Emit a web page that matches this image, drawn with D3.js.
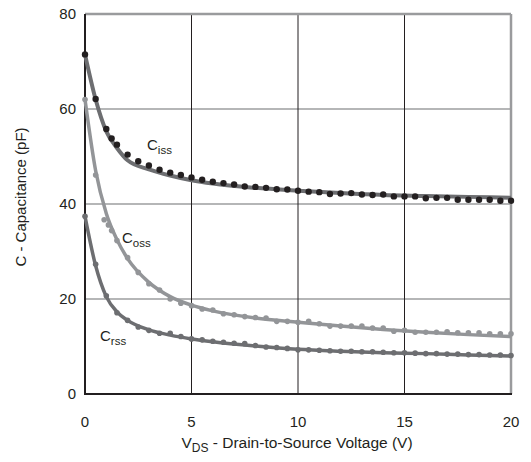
<!DOCTYPE html>
<html>
<head>
<meta charset="utf-8">
<script src="https://cdn.jsdelivr.net/npm/d3@7"></script>
<style>
    body { margin: 0; background: #fff; }
    text { font-family: "Liberation Sans", Arial, sans-serif; fill: #231f20; }
</style>
</head>
<body>
<div id="chart"></div>
<script>
// data (V, pF)
var xTicks = [0, 5, 10, 15, 20];
var yTicks = [0, 20, 40, 60, 80];

var cissDotV = [0, 0.5, 1, 1.25, 1.5, 2, 2.5, 3, 3.5, 4, 4.5, 5, 5.5, 6, 6.5, 7, 7.5, 8, 8.5, 9, 9.5, 10, 10.5, 11, 11.5, 12, 12.5, 13, 13.5, 14, 14.5, 15, 15.5, 16, 16.5, 17, 17.5, 18, 18.5, 19, 19.5, 20];
var cissDotC = [71.5, 62.1, 55.8, 53.8, 52.5, 50.4, 49.0, 48.1, 47.2, 46.6, 46.1, 45.6, 45.1, 44.7, 44.4, 44.1, 43.7, 43.6, 43.4, 43.1, 43.05, 42.8, 42.6, 42.5, 42.1, 42.2, 42.3, 42.0, 41.9, 42.0, 41.6, 41.6, 41.6, 41.2, 41.3, 41.3, 40.9, 40.9, 40.9, 40.9, 40.7, 40.7];

var cossDotV = [0, 0.5, 0.9, 1.1, 1.25, 1.5, 2, 2.5, 3, 3.5, 4, 4.5, 5, 5.5, 6, 6.5, 7, 7.5, 8, 8.5, 9, 9.5, 10, 10.5, 11, 11.5, 12, 12.5, 13, 13.5, 14, 14.5, 15, 15.5, 16, 16.5, 17, 17.5, 18, 18.5, 19, 19.5, 20];
var cossDotC = [62, 46.1, 36.7, 35.6, 34.4, 32.3, 28.7, 25.6, 23.2, 21.9, 20.0, 19.1, 18.6, 17.9, 17.7, 16.9, 16.7, 16.3, 16.1, 16.0, 15.3, 15.3, 15.1, 15.3, 14.8, 14.3, 14.3, 14.3, 14.3, 13.9, 13.9, 13.2, 13.4, 13.0, 13.0, 13.0, 13.1, 12.9, 12.9, 12.9, 12.7, 12.7, 12.7];

var crssDotV = [0, 0.5, 1, 1.5, 2, 2.5, 3, 3.5, 4, 4.5, 5, 5.5, 6, 6.5, 7, 7.5, 8, 8.5, 9, 9.5, 10, 10.5, 11, 11.5, 12, 12.5, 13, 13.5, 14, 14.5, 15, 15.5, 16, 16.5, 17, 17.5, 18, 18.5, 19, 19.5, 20];
var crssDotC = [37.4, 27.3, 20.7, 17.1, 15.5, 14.1, 13.4, 12.8, 12.8, 12.1, 11.6, 11.4, 11.1, 10.9, 10.7, 10.6, 10.2, 9.9, 9.8, 9.6, 9.3, 9.3, 9.2, 9.1, 9.0, 9.0, 8.9, 8.9, 8.8, 8.7, 8.7, 8.6, 8.5, 8.5, 8.4, 8.4, 8.3, 8.3, 8.2, 8.2, 8.1];

var fitV = [0, 0.5, 1, 1.5, 2, 3, 4, 5, 6, 8, 10, 12, 14, 16, 18, 20];
var cissFit = [71.5, 62, 55.3, 51.8, 49.2, 47.3, 46.0, 45.0, 44.3, 43.4, 42.8, 42.3, 41.9, 41.7, 41.5, 41.3];
var cossFit = [62, 47, 38, 32.5, 28.5, 23.5, 20.5, 18.7, 17.5, 16.0, 15.1, 14.3, 13.6, 13.0, 12.5, 12.1];
var crssFit = [37.4, 27, 20.5, 17.3, 15.5, 13.5, 12.4, 11.6, 11.0, 10.1, 9.4, 9.0, 8.7, 8.5, 8.2, 8.0];

var W = 531, H = 462;
var margin = { left: 85, right: 20, top: 14, bottom: 68 };

var svg = d3.select('#chart').append('svg')
    .attr('width', W)
    .attr('height', H);

var x = d3.scaleLinear().domain([0, 20]).range([margin.left, W - margin.right]);
var y = d3.scaleLinear().domain([0, 80]).range([H - margin.bottom, margin.top]);

// grid
svg.append('g').selectAll('line').data(yTicks.slice(1, 4)).enter().append('line')
    .attr('x1', x(0)).attr('x2', x(20))
    .attr('y1', function(d) { return y(d); }).attr('y2', function(d) { return y(d); })
    .attr('stroke', '#6d6e71').attr('stroke-width', 1.2);
svg.append('g').selectAll('line').data(xTicks.slice(1, 4)).enter().append('line')
    .attr('y1', y(0)).attr('y2', y(80))
    .attr('x1', function(d) { return x(d); }).attr('x2', function(d) { return x(d); })
    .attr('stroke', '#231f20').attr('stroke-width', 1);

// frame: gray top/right, dark left/bottom
svg.append('line').attr('x1', x(0)).attr('x2', x(20)).attr('y1', y(80)).attr('y2', y(80))
    .attr('stroke', '#9a9b9d').attr('stroke-width', 2.5);
svg.append('line').attr('x1', x(20)).attr('x2', x(20)).attr('y1', y(80)).attr('y2', y(0))
    .attr('stroke', '#9a9b9d').attr('stroke-width', 2.5);
svg.append('line').attr('x1', x(0)).attr('x2', x(0)).attr('y1', y(80)).attr('y2', y(0) + 1)
    .attr('stroke', '#231f20').attr('stroke-width', 2);
svg.append('line').attr('x1', x(0) - 1).attr('x2', x(20) + 1).attr('y1', y(0)).attr('y2', y(0))
    .attr('stroke', '#231f20').attr('stroke-width', 2.2);

// tick labels
svg.append('g').selectAll('text').data(yTicks).enter().append('text')
    .attr('x', x(0) - 9).attr('y', function(d) { return y(d) + 5; })
    .attr('text-anchor', 'end').attr('font-size', 15)
    .text(function(d) { return d; });
svg.append('g').selectAll('text').data(xTicks).enter().append('text')
    .attr('x', function(d) { return x(d); }).attr('y', y(0) + 33)
    .attr('text-anchor', 'middle').attr('font-size', 15)
    .text(function(d) { return d; });

// axis titles
var xt = svg.append('text').attr('x', 297).attr('y', 448).attr('text-anchor', 'middle').attr('font-size', 15.5);
xt.append('tspan').text('V');
xt.append('tspan').attr('font-size', 12).attr('dy', 4).text('DS');
xt.append('tspan').attr('dy', -4).text(' - Drain-to-Source Voltage (V)');

svg.append('text')
    .attr('transform', 'translate(26,' + 197 + ') rotate(-90)')
    .attr('text-anchor', 'middle').attr('font-size', 15)
    .text('C - Capacitance (pF)');

// curves
var line = d3.line()
    .x(function(d) { return x(d[0]); })
    .y(function(d) { return y(d[1]); })
    .curve(d3.curveMonotoneX);

function zip(a, b) {
    return a.map(function(v, i) { return [v, b[i]]; });
}

var series = [
    { fit: cossFit, dv: cossDotV, dc: cossDotC, line: '#939598', dot: '#939598', w: 3.5, r: 2.8 },
    { fit: crssFit, dv: crssDotV, dc: crssDotC, line: '#6d6e71', dot: '#6d6e71', w: 3.5, r: 2.8 },
    { fit: cissFit, dv: cissDotV, dc: cissDotC, line: '#6d6e71', dot: '#231f20', w: 4, r: 3.2 }
];

series.forEach(function(s) {
    svg.append('path')
        .datum(zip(fitV, s.fit))
        .attr('d', line)
        .attr('fill', 'none')
        .attr('stroke', s.line)
        .attr('stroke-width', s.w);
    svg.append('g').selectAll('circle').data(zip(s.dv, s.dc)).enter().append('circle')
        .attr('cx', function(d) { return x(d[0]); })
        .attr('cy', function(d) { return y(d[1]); })
        .attr('r', s.r)
        .attr('fill', s.dot);
});

// curve labels
function label(px, py, sub) {
    var t = svg.append('text').attr('x', px).attr('y', py).attr('font-size', 15);
    t.append('tspan').text('C');
    t.append('tspan').attr('font-size', 11.5).attr('dy', 4).text(sub);
}
label(147, 150, 'iss');
label(122, 243, 'oss');
label(100, 341, 'rss');
</script>
</body>
</html>
